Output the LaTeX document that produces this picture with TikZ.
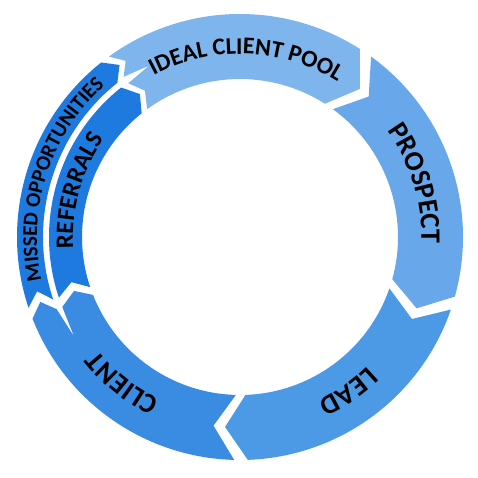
\documentclass[tikz,border=0pt]{standalone}
\usepackage{fontspec}
\setmainfont{Carlito}
\usetikzlibrary{decorations.text}
\definecolor{cIdeal}{HTML}{7FB5ED}
\definecolor{cProspect}{HTML}{68A8EA}
\definecolor{cLead}{HTML}{4C99E6}
\definecolor{cClient}{HTML}{3A8BE2}
\definecolor{cSplit}{HTML}{1F7AE0}
\newcommand\fsIdeal{\bfseries\fontsize{24}{26}\selectfont}
\newcommand\fsMain{\bfseries\fontsize{28}{30}\selectfont}
\newcommand\fsMissed{\bfseries\fontsize{21}{23}\selectfont}
\newcommand\fsRef{\bfseries\fontsize{25}{27}\selectfont}
\begin{document}
\begin{tikzpicture}[x=1pt,y=1pt,
  seglabel/.style={decorate, decoration={text along path, text align=center, text color=black}}]
\fill[white] (0,0) rectangle (478,478);
\useasboundingbox (0,0) rectangle (478,478);
\begin{scope}[shift={(240,241)}]
% IDEAL CLIENT POOL
\fill[cIdeal] (126:223pt) arc[start angle=126,end angle=57.5,radius=223pt] -- (51:190.5pt) -- (57.5:158pt)
  arc[start angle=57.5,end angle=126,radius=158pt] -- (123:174.5pt) -- (126:190pt) -- (118:194pt) -- (126:198pt) -- (123:210pt) -- cycle;
% PROSPECT
\fill[cProspect] (54:223pt) arc[start angle=54,end angle=-15.5,radius=223pt] -- (-22:190.5pt) -- (-15.5:158pt)
  arc[start angle=-15.5,end angle=54,radius=158pt] -- (47.5:190.5pt) -- cycle;
% LEAD
\fill[cLead] (-19:223pt) arc[start angle=-19,end angle=-88,radius=223pt] -- (-94.5:190.5pt) -- (-88:158pt)
  arc[start angle=-88,end angle=-19,radius=158pt] -- (-25.5:190.5pt) -- cycle;
% CLIENT
\fill[cClient] (268.5:223pt) arc[start angle=268.5,end angle=201.5,radius=223pt] -- (198:210pt) -- (201.5:197pt)
  -- (211:193.5pt) -- (201.5:191pt) -- (198:174.5pt) -- (201.5:158pt)
  arc[start angle=201.5,end angle=268.5,radius=158pt] -- (262:190.5pt) -- cycle;
% MISSED OPPORTUNITIES
\fill[cSplit] (198.5:223pt) arc[start angle=198.5,end angle=128.5,radius=223pt] -- (125:210pt) -- (128.5:197pt)
  arc[start angle=128.5,end angle=198.5,radius=197pt] -- (195:210pt) -- cycle;
% REFERRALS
\fill[cSplit] (198.5:191pt) arc[start angle=198.5,end angle=128.5,radius=191pt] -- (125:174.5pt) -- (128.5:158pt)
  arc[start angle=128.5,end angle=198.5,radius=158pt] -- (195:174.5pt) -- cycle;
% labels
\path[seglabel, decoration={text={|\fsIdeal|IDEAL CLIENT POOL}}] (123:183pt) arc[start angle=123,end angle=53,radius=183pt];
\path[seglabel, decoration={text={|\fsMain|PROSPECT}}] (52:181.5pt) arc[start angle=52,end angle=-18,radius=181.5pt];
\path[seglabel, decoration={text={|\fsMain|LEAD}}] (-20:181.5pt) arc[start angle=-20,end angle=-90,radius=181.5pt];
\path[seglabel, decoration={text={|\fsMain|CLIENT}}] (266:181.5pt) arc[start angle=266,end angle=196,radius=181.5pt];
\path[seglabel, decoration={text={|\fsMissed|MISSED OPPORTUNITIES}}] (196:203pt) arc[start angle=196,end angle=128,radius=203pt];
\path[seglabel, decoration={text={|\fsRef|REFERRALS}}] (198:167pt) arc[start angle=198,end angle=130,radius=167pt];
\end{scope}
\end{tikzpicture}
\end{document}
